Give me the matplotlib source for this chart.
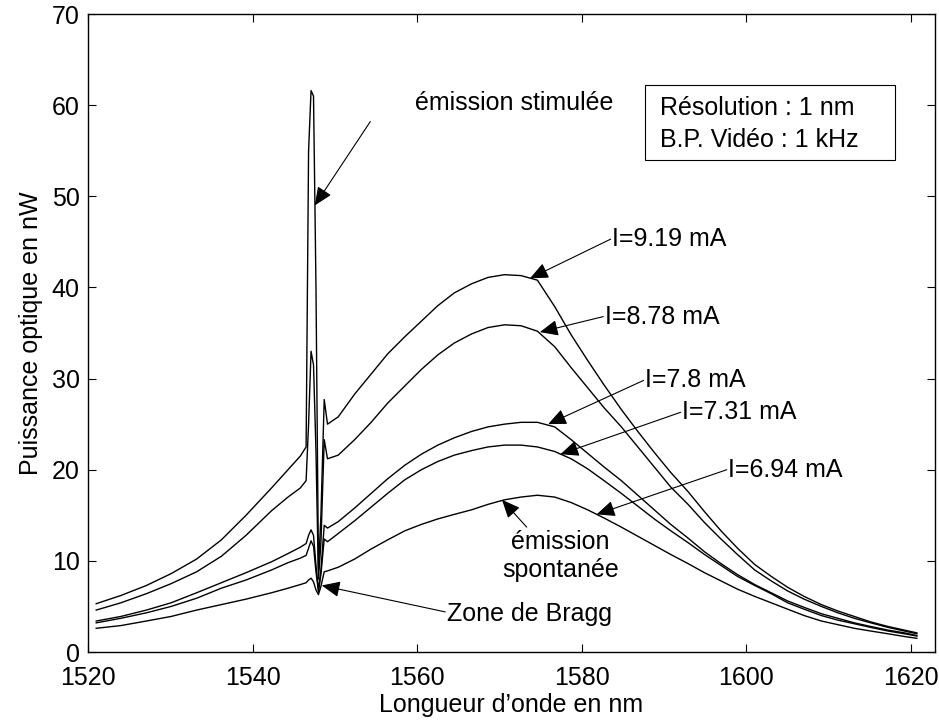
import matplotlib
matplotlib.use("Agg")
import matplotlib.pyplot as plt
from matplotlib.patches import Rectangle

plt.rcParams['font.family'] = ['Liberation Sans', 'DejaVu Sans']

# longueurs d'onde (nm), grille commune aux cinq courbes
wl = [1521.0, 1524.0, 1527.1, 1530.1, 1533.2, 1536.2, 1539.2, 1542.3, 1544.3, 1545.8,
      1546.5, 1546.8, 1547.1, 1547.4, 1547.7, 1548.0, 1548.3, 1548.7, 1549.1,
      1550.4, 1552.4, 1554.4, 1556.4, 1558.5, 1560.5, 1562.5, 1564.5, 1566.6, 1568.6,
      1570.6, 1572.6, 1574.6, 1576.7, 1578.7, 1580.7, 1582.7, 1584.8, 1586.8, 1588.8,
      1590.8, 1592.9, 1594.9, 1596.9, 1598.9, 1601.0, 1603.0, 1605.0, 1607.0, 1609.1,
      1611.1, 1613.1, 1615.1, 1617.2, 1619.2, 1620.7]

# puissance (nW) pour chaque courant
p_919 = [5.3, 6.2, 7.3, 8.6, 10.2, 12.3, 15.0, 18.0, 20.0, 21.5,
         22.5, 55.0, 61.6, 61.0, 40.0, 9.0, 15.0, 27.7, 25.0,
         25.8, 28.3, 30.5, 32.7, 34.6, 36.3, 38.0, 39.4, 40.4, 41.1,
         41.4, 41.3, 40.8, 37.9, 34.8, 32.0, 29.3, 26.6, 24.2, 21.9,
         19.7, 17.6, 15.4, 13.3, 11.4, 9.6, 8.3, 7.1, 6.1, 5.2,
         4.5, 3.9, 3.3, 2.8, 2.4, 2.1]
p_878 = [4.6, 5.4, 6.4, 7.5, 8.8, 10.5, 12.8, 15.5, 17.0, 18.0,
         18.8, 25.0, 33.0, 31.5, 22.0, 8.0, 12.0, 23.3, 21.2,
         21.6, 23.3, 25.2, 27.3, 29.2, 31.0, 32.6, 33.9, 34.9, 35.6,
         35.9, 35.8, 35.2, 33.5, 31.2, 29.0, 26.8, 24.7, 22.5, 20.3,
         18.1, 16.2, 14.2, 12.4, 10.7, 9.0, 7.8, 6.7, 5.8, 5.0,
         4.3, 3.7, 3.2, 2.7, 2.3, 2.0]
p_780 = [3.4, 3.9, 4.6, 5.4, 6.5, 7.6, 8.7, 9.9, 10.8, 11.5,
         11.9, 12.8, 13.4, 12.8, 9.5, 6.8, 9.0, 13.9, 13.6,
         14.3, 15.8, 17.4, 19.0, 20.5, 21.7, 22.7, 23.5, 24.2, 24.7,
         25.0, 25.2, 25.2, 24.7, 23.3, 21.8, 20.3, 18.8, 17.2, 15.6,
         14.0, 12.5, 11.0, 9.7, 8.5, 7.4, 6.5, 5.6, 4.9, 4.2,
         3.7, 3.2, 2.8, 2.4, 2.1, 1.8]
p_731 = [3.2, 3.7, 4.3, 5.0, 5.9, 7.0, 7.9, 9.0, 9.8, 10.3,
         10.6, 11.4, 12.2, 11.6, 8.8, 6.6, 8.5, 12.4, 12.1,
         13.0, 14.4, 15.9, 17.4, 18.9, 20.0, 20.9, 21.6, 22.1, 22.5,
         22.7, 22.7, 22.5, 22.0, 21.2, 20.1, 18.8, 17.4, 16.0, 14.6,
         13.3, 12.0, 10.7, 9.5, 8.3, 7.3, 6.4, 5.4, 4.7, 4.0,
         3.5, 3.1, 2.7, 2.3, 2.0, 1.75]
p_694 = [2.6, 2.9, 3.4, 3.9, 4.6, 5.2, 5.8, 6.5, 7.0, 7.4,
         7.6, 7.9, 8.1, 7.7, 6.8, 6.3, 7.2, 8.8, 8.9,
         9.3, 10.2, 11.3, 12.3, 13.3, 14.0, 14.6, 15.1, 15.6, 16.2,
         16.7, 17.0, 17.2, 17.0, 16.4, 15.6, 14.7, 13.7, 12.7, 11.7,
         10.7, 9.7, 8.7, 7.8, 6.9, 6.1, 5.4, 4.7, 4.0, 3.4,
         3.0, 2.6, 2.3, 2.0, 1.7, 1.5]

fig = plt.figure(figsize=(9.39, 7.23), dpi=100)
ax = fig.add_axes([0.0937, 0.0982, 0.902, 0.8824])

for p in [p_919, p_878, p_780, p_731, p_694]:
    ax.plot(wl, p, color='black', linewidth=1.0)

ax.set_xlim(1520, 1622.9)
ax.set_ylim(0, 70)
ax.set_xticks([1520, 1540, 1560, 1580, 1600, 1620])
ax.set_yticks(range(0, 71, 10))
ax.tick_params(direction='in', length=6, width=0.8, labelsize=18,
               top=True, right=True, pad=6)
ax.tick_params(axis='x', pad=10)
for s in ax.spines.values():
    s.set_linewidth(1.0)

ax.set_xlabel("Longueur d\u2019onde en nm", fontsize=18, labelpad=2)
ax.set_ylabel("Puissance optique en nW", fontsize=18, labelpad=6)

arr = dict(arrowstyle='-|>,head_length=0.8,head_width=0.35',
           mutation_scale=14, color='black', lw=0.8, shrinkA=0, shrinkB=0)

def label(txt, pos, start, tip, **kw):
    ax.text(pos[0], pos[1], txt, fontsize=18, va='center', **kw)
    ax.annotate('', xy=tip, xytext=start, arrowprops=arr)

label('émission stimulée', (1559.7, 60.2), (1554.3, 58.2), (1547.55, 49.0))
label('I=9.19 mA', (1583.7, 45.3), (1583.5, 45.3), (1573.7, 41.0))
label('I=8.78 mA', (1582.8, 36.8), (1582.6, 36.8), (1574.9, 35.1))
label('I=7.8 mA', (1587.7, 29.8), (1587.5, 29.8), (1575.9, 25.0))
label('I=7.31 mA', (1592.2, 26.3), (1592.0, 26.3), (1577.4, 21.7))
label('I=6.94 mA', (1597.8, 20.0), (1597.6, 20.0), (1581.8, 15.1))
label('émission\nspontanée', (1577.4, 10.5), (1573.3, 13.7), (1570.3, 16.7),
      ha='center', linespacing=1.2)
label('Zone de Bragg', (1563.6, 4.2), (1563.4, 4.4), (1548.4, 7.3))

ax.add_patch(Rectangle((1587.7, 54.0), 30.4, 8.2, fc='white', ec='black',
                       lw=0.8, zorder=3))
ax.text(1589.5, 59.7, 'Résolution : 1 nm', fontsize=18, va='center', zorder=4)
ax.text(1589.5, 56.2, 'B.P. Vidéo : 1 kHz', fontsize=18, va='center', zorder=4)

fig.savefig('out.png', dpi=100)
